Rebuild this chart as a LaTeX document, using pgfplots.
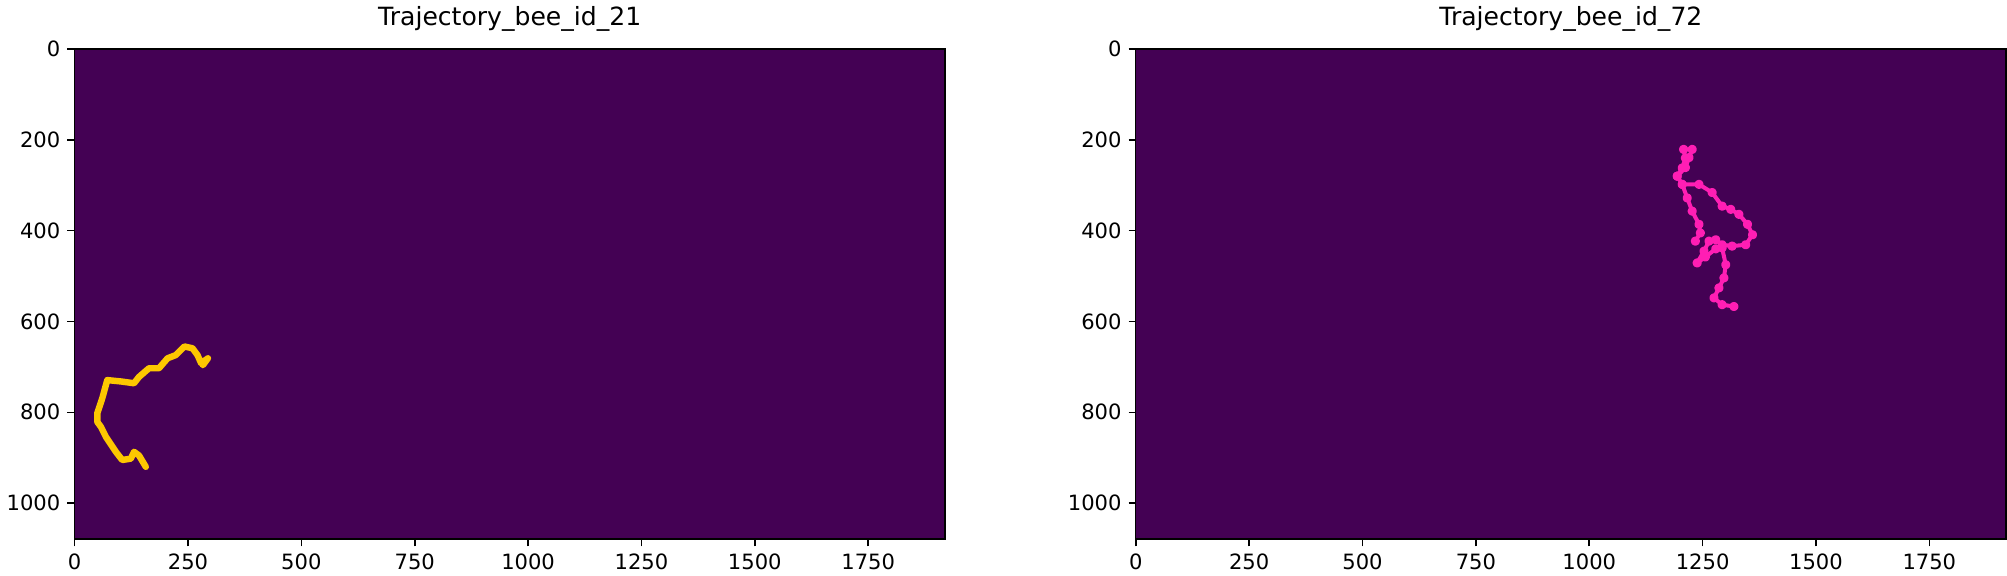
\documentclass[border=0pt]{standalone}
\usepackage{pgfplots}
\pgfplotsset{compat=1.18}
\usepackage{fontspec}
\setmainfont{DejaVu Sans}

\definecolor{vbg}{HTML}{440154}
\definecolor{beeyellow}{HTML}{FDC800}
\definecolor{beepink}{HTML}{FF1EB4}

\pgfplotsset{
  beeaxis/.style={
    scale only axis,
    width=434pt, height=244.5pt,
    y dir=reverse,
    xmin=-0.5, xmax=1919.5,
    ymin=-0.5, ymax=1079.5,
    xtick={0,250,...,1750},
    ytick={0,200,...,1000},
    tick align=outside,
    xtick pos=left,
    ytick pos=left,
    major tick length=3.5pt,
    every tick/.style={black, line width=0.8pt},
    axis line style={line width=0.8pt},
    axis background/.style={fill=vbg},
    tick label style={font=\fontsize{10.5}{12}\selectfont},
    /pgf/number format/assume math mode=true,
    /pgf/number format/1000 sep={},
    title style={font=\fontsize{12.5}{14}\selectfont, yshift=-1pt},
    anchor=north west,
  }
}

\begin{document}
\begin{tikzpicture}
\begin{axis}[beeaxis, at={(0,0)}, title={Trajectory\_bee\_id\_21}]
\addplot[beeyellow, line width=3.2pt, line join=round, line cap=round] coordinates {
  (157,920) (142,895) (131,887) (124,902) (105,905) (91,887) (69,854)
  (58,832) (50,821) (50,802) (61,769) (72,729) (102,732) (131,736)
  (142,722) (164,703) (186,703) (205,681) (223,674) (242,655) (260,659)
  (271,674) (279,692) (294,681) (283,696) (276,684)
};
\end{axis}

\begin{axis}[beeaxis, at={(529pt,0)}, title={Trajectory\_bee\_id\_72}]
\addplot[beepink, line width=2pt, line join=round, line cap=round,
  mark=*, mark size=1.3pt, mark options={fill=beepink, draw=beepink}] coordinates {
  (1234,423) (1245,405) (1242,386) (1227,357) (1216,328) (1205,298)
  (1194,280) (1212,261) (1220,239) (1227,221) (1208,221) (1212,240)
  (1205,262) (1194,280) (1205,298) (1242,298) (1271,316) (1293,346)
  (1312,353) (1330,364) (1349,386) (1360,409) (1345,431) (1315,434)
  (1293,431) (1279,420) (1264,423) (1253,445) (1238,471) (1256,458)
  (1279,440) (1293,438) (1301,475) (1297,504) (1286,526) (1275,548)
  (1293,563) (1319,567)
};
\end{axis}
\end{tikzpicture}
\end{document}
